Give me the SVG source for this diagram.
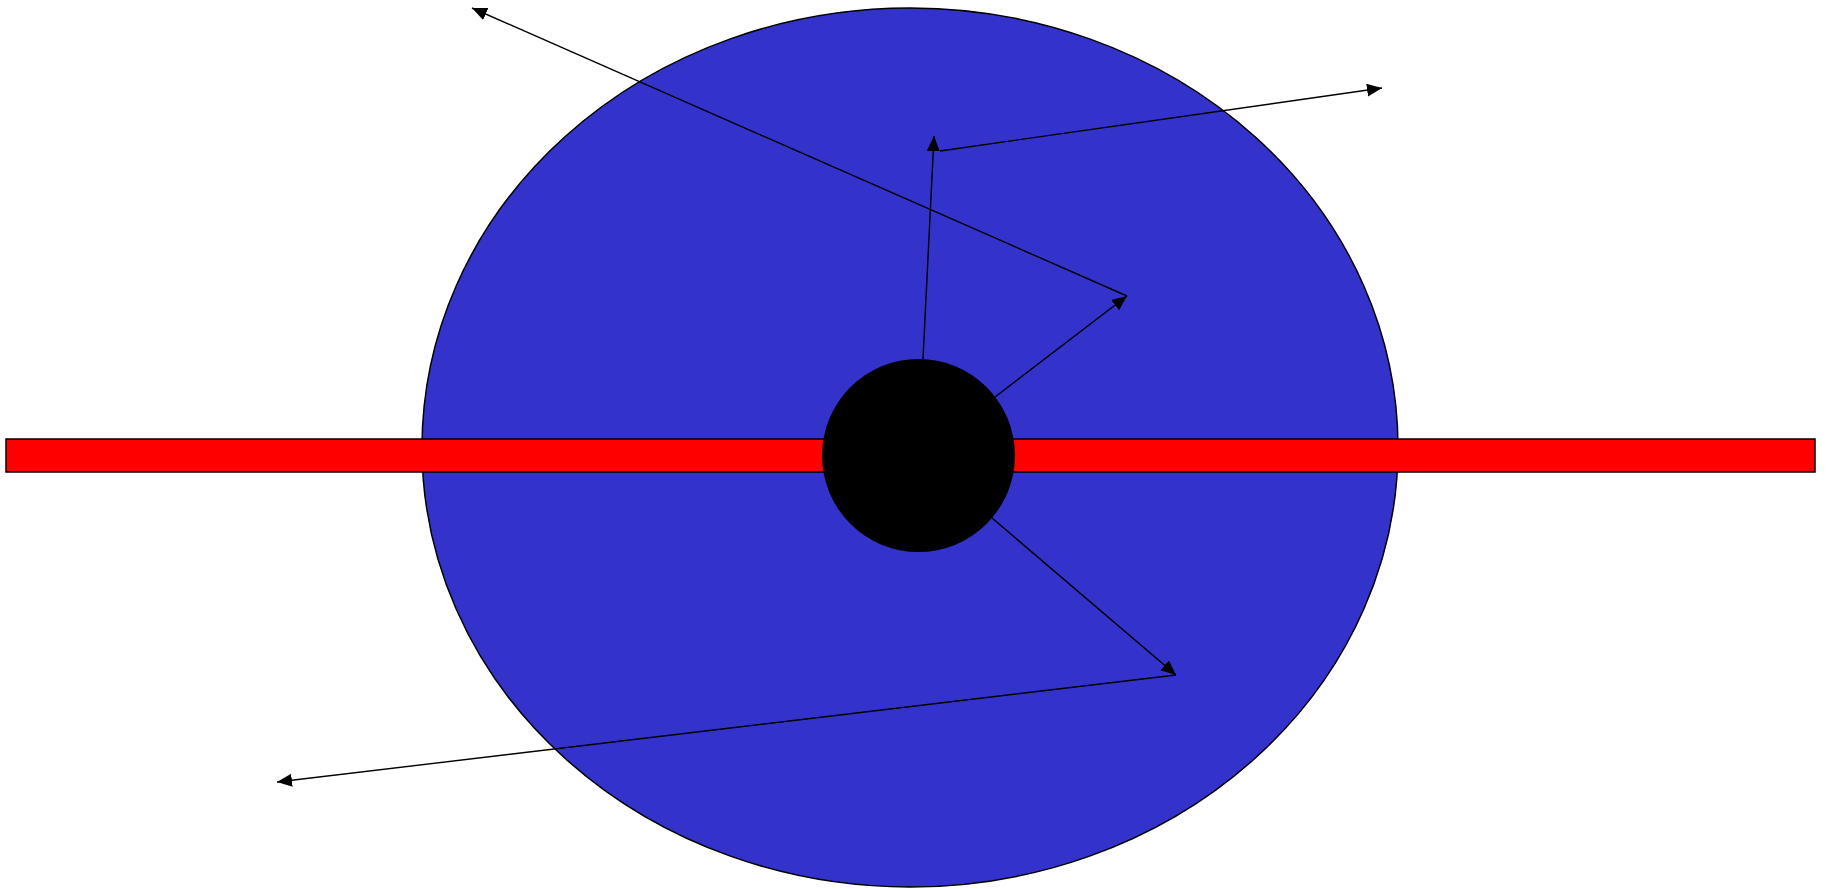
<svg xmlns="http://www.w3.org/2000/svg" width="1828" height="889" viewBox="0 0 1828 889">
<style>
.edge{stroke:#000;stroke-width:1.4;fill:none;marker-end:url(#ah)}
</style>
<defs>
<marker id="ah" markerUnits="userSpaceOnUse" markerWidth="16" markerHeight="14" refX="15" refY="6.5" orient="auto">
<path d="M0,0 L15,6.5 L0,13 z" fill="#000"/>
</marker>
</defs>
<rect width="1828" height="889" fill="#fff"/>
<g id="orbit"><ellipse cx="910" cy="447.5" rx="488" ry="439.5" fill="#3333CC" stroke="#000" stroke-width="1.5"/></g>
<g id="bar"><rect x="6" y="439" width="1809" height="33" fill="#FF0000" stroke="#000" stroke-width="1.5"/></g>
<g id="connectors">
<line class="edge" x1="923" y1="359" x2="934" y2="136"/>
<line class="edge" x1="940" y1="151" x2="1382" y2="88"/>
<line class="edge" x1="995" y1="397" x2="1127" y2="296"/>
<line class="edge" x1="1127" y1="296" x2="472" y2="8"/>
<line class="edge" x1="992" y1="518" x2="1176" y2="675"/>
<line class="edge" x1="1176" y1="675" x2="277" y2="782"/>
</g>
<g id="core"><circle cx="918.5" cy="455.5" r="96.5" fill="#000"/></g>
</svg>
